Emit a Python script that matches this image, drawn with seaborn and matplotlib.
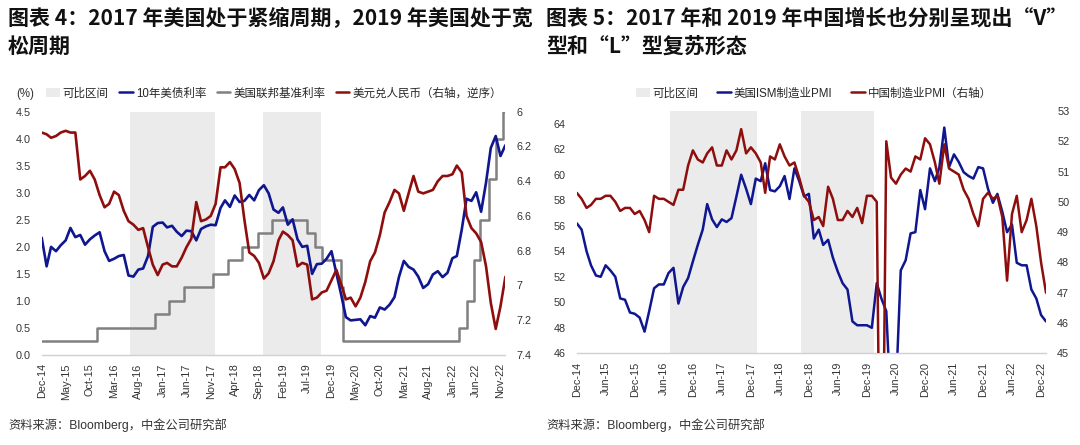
import pandas as pd
import matplotlib
matplotlib.use('Agg')
import matplotlib.pyplot as plt
import matplotlib.dates as mdates
from matplotlib.lines import Line2D
from matplotlib.patches import Patch
from matplotlib.ticker import FormatStrFormatter
import seaborn as sns

# ---------------- chart 4 data (month-end, Dec-2014 .. Dec-2022) ----------------
ust10y = [2.17,
          1.64, 2.00, 1.92, 2.03, 2.12, 2.35, 2.18, 2.22, 2.04, 2.14, 2.21, 2.27,
          1.92, 1.74, 1.78, 1.83, 1.85, 1.47, 1.45, 1.58, 1.60, 1.83, 2.37, 2.44,
          2.45, 2.36, 2.39, 2.28, 2.20, 2.30, 2.29, 2.12, 2.33, 2.38, 2.41, 2.40,
          2.72, 2.86, 2.74, 2.95, 2.83, 2.85, 2.96, 2.86, 3.05, 3.14, 2.99, 2.69,
          2.63, 2.73, 2.41, 2.51, 2.14, 2.00, 2.02, 1.50, 1.68, 1.69, 1.78, 1.92,
          1.51, 1.13, 0.70, 0.64, 0.65, 0.66, 0.55, 0.72, 0.69, 0.88, 0.84, 0.93,
          1.07, 1.44, 1.74, 1.63, 1.58, 1.45, 1.24, 1.31, 1.49, 1.55, 1.44, 1.52,
          1.79, 1.83, 2.32, 2.89, 2.85, 3.01, 2.65, 3.19, 3.83, 4.05, 3.68, 3.88]

usdcny = [6.12,
          6.13, 6.15, 6.14, 6.12, 6.11, 6.12, 6.12, 6.39, 6.37, 6.34, 6.39, 6.48,
          6.55, 6.53, 6.46, 6.48, 6.57, 6.63, 6.65, 6.68, 6.67, 6.78, 6.88, 6.94,
          6.88, 6.87, 6.89, 6.89, 6.84, 6.78, 6.73, 6.52, 6.63, 6.62, 6.60, 6.53,
          6.32, 6.32, 6.29, 6.33, 6.41, 6.62, 6.81, 6.83, 6.87, 6.96, 6.93, 6.86,
          6.74, 6.69, 6.71, 6.74, 6.89, 6.87, 6.88, 7.08, 7.07, 7.04, 7.03, 6.97,
          6.91, 6.99, 7.08, 7.07, 7.12, 7.07, 6.98, 6.86, 6.81, 6.71, 6.58, 6.52,
          6.45, 6.47, 6.57, 6.47, 6.37, 6.46, 6.47, 6.46, 6.45, 6.40, 6.37, 6.37,
          6.36, 6.31, 6.35, 6.60, 6.67, 6.70, 6.75, 6.89, 7.10, 7.25, 7.12, 6.95]

fed_dates = ['2014-12-31', '2015-12-16', '2016-12-14', '2017-03-15', '2017-06-14',
             '2017-12-13', '2018-03-21', '2018-06-13', '2018-09-26', '2018-12-19',
             '2019-07-31', '2019-09-18', '2019-10-30', '2020-03-03', '2020-03-15',
             '2022-03-16', '2022-05-04', '2022-06-15', '2022-07-27', '2022-09-21',
             '2022-11-02', '2022-12-14', '2022-12-31']
fed_rate = [0.25, 0.50, 0.75, 1.00, 1.25, 1.50, 1.75, 2.00, 2.25, 2.50,
            2.25, 2.00, 1.75, 1.25, 0.25, 0.50, 1.00, 1.75, 2.50, 3.25,
            4.00, 4.50, 4.50]

shade4 = [('2016-07-09', '2017-12-27'), ('2018-10-23', '2019-10-23')]

# ---------------- chart 5 data (monthly PMI, Nov-2014 .. Dec-2022) ----------------
ism_pmi = [56.2, 55.7, 54.0, 52.9, 52.1, 52.0, 52.9, 52.5, 52.0, 50.3, 50.2, 49.2,
           49.1, 48.8, 47.7, 49.3, 51.1, 51.4, 51.4, 52.3, 52.7, 49.9, 51.2, 51.9,
           53.2, 54.5, 55.7, 57.7, 56.5, 55.9, 56.5, 56.3, 56.6, 58.3, 60.0, 58.9,
           57.7, 59.7, 59.5, 60.9, 58.8, 58.7, 59.1, 59.9, 58.1, 60.5, 59.5, 58.3,
           58.5,
           55.0, 55.7, 54.5, 54.9, 53.5, 52.4, 51.5, 51.0, 48.5, 48.2, 48.2, 48.2,
           48.0, 51.5, 50.3, 49.3, 41.5, 43.1, 52.5, 53.3, 55.4, 55.5, 58.8, 57.3,
           60.5, 59.5, 60.6, 63.7, 60.6, 61.6, 61.0, 60.2, 59.9, 59.7, 60.6, 60.5,
           58.9, 57.8, 58.5, 57.1, 55.5, 56.1, 53.1, 52.9, 52.9, 51.0, 50.3, 49.0,
           48.5]

china_pmi = [50.3, 50.1,
             49.8, 49.9, 50.1, 50.1, 50.2, 50.2, 50.0, 49.7, 49.8, 49.8, 49.6, 49.7,
             49.4, 49.0, 50.2, 50.1, 50.1, 50.0, 49.9, 50.4, 50.4, 51.2, 51.7, 51.4,
             51.3, 51.6, 51.8, 51.2, 51.2, 51.7, 51.4, 51.7, 52.4, 51.6, 51.8, 51.6,
             51.3, 50.3, 51.5, 51.4, 51.9, 51.5, 51.2, 51.3, 50.8, 50.2, 50.0, 49.4,
             49.5, 49.2, 50.5, 50.1, 49.4, 49.4, 49.7, 49.5, 49.8, 49.3, 50.2, 50.2,
             50.0, 35.7, 52.0, 50.8, 50.6, 50.9, 51.1, 51.0, 51.5, 51.4, 52.1, 51.9,
             51.3, 50.6, 51.9, 51.1, 51.0, 50.9, 50.4, 50.1, 49.6, 49.2, 50.1, 50.3,
             50.1, 50.2, 49.5, 47.4, 49.6, 50.2, 49.0, 49.4, 50.1, 49.2, 48.0, 47.0]

shade5 = [('2016-07-07', '2018-01-10'), ('2018-10-13', '2020-01-13')]

# colours
BLUE = '#0E1690'
RED = '#8E0E0E'
GRAY = '#808080'
SHADE = '#EBEBEB'
TXT = '#333333'

sns.set_style('white')
plt.rcParams['font.family'] = ['Liberation Sans', 'Noto Sans CJK SC']
plt.rcParams['axes.unicode_minus'] = False

fig = plt.figure(figsize=(10.8, 4.45), dpi=100)

dates4 = pd.date_range('2014-12-31', periods=len(ust10y), freq='ME')
dates5 = pd.date_range('2014-12-01', periods=len(ism_pmi), freq='MS')


def style_axes(ax, twin):
    for a in (ax, twin):
        for s in ('top', 'left', 'right', 'bottom'):
            a.spines[s].set_visible(False)
        a.tick_params(axis='y', length=0, labelsize=7.8, labelcolor=TXT, pad=8)
        a.grid(False)
    ax.spines['bottom'].set_visible(True)
    ax.spines['bottom'].set_color('#D0D0D0')
    ax.spines['bottom'].set_linewidth(1.0)
    ax.tick_params(axis='x', length=4, width=0.8, color='#D0D0D0', labelsize=7.8,
                   labelcolor=TXT, labelrotation=90, pad=2)
    ax.set_xlabel('')
    ax.set_ylabel('')
    twin.set_ylabel('')


# ---------------- chart 4 ----------------
ax = fig.add_axes([41.7 / 1080, 90 / 445, (505.4 - 41.7) / 1080, 243.3 / 445])
ax2 = ax.twinx()
for s0, s1 in shade4:
    ax.axvspan(pd.Timestamp(s0), pd.Timestamp(s1), color=SHADE, lw=0, zorder=0)
sns.lineplot(x=pd.to_datetime(fed_dates), y=fed_rate, ax=ax, color=GRAY, lw=1.8,
             drawstyle='steps-post', legend=False)
sns.lineplot(x=dates4, y=ust10y, ax=ax, color=BLUE, lw=1.9, legend=False)
sns.lineplot(x=dates4, y=usdcny, ax=ax2, color=RED, lw=1.9, legend=False)
ax.set_ylim(0, 4.5)
ax.set_yticks([0, 0.5, 1, 1.5, 2, 2.5, 3, 3.5, 4, 4.5])
ax.yaxis.set_major_formatter(FormatStrFormatter('%.1f'))
ax2.set_ylim(7.4, 6.0)
ax2.set_yticks([6, 6.2, 6.4, 6.6, 6.8, 7, 7.2, 7.4])
ax2.set_yticklabels(['6', '6.2', '6.4', '6.6', '6.8', '7', '7.2', '7.4'])
ax.set_xlim(pd.Timestamp('2014-12-31'), pd.Timestamp('2022-12-31'))
ax.set_xticks(pd.date_range('2014-12-31', '2022-12-31', freq='5ME'))
ax.xaxis.set_major_formatter(mdates.DateFormatter('%b-%y'))
style_axes(ax, ax2)

# ---------------- chart 5 ----------------
bx = fig.add_axes([576.7 / 1080, 91.7 / 445, (1046 - 576.7) / 1080, 242.3 / 445])
bx2 = bx.twinx()
for s0, s1 in shade5:
    bx.axvspan(pd.Timestamp(s0), pd.Timestamp(s1), color=SHADE, lw=0, zorder=0)
sns.lineplot(x=dates5, y=ism_pmi, ax=bx, color=BLUE, lw=1.8, legend=False)
sns.lineplot(x=dates5, y=china_pmi, ax=bx2, color=RED, lw=1.8, legend=False)
bx.set_ylim(46, 65)
bx.set_yticks(list(range(46, 65, 2)))
bx2.set_ylim(45, 53)
bx2.set_yticks(list(range(45, 54)))
bx.set_xlim(pd.Timestamp('2014-12-01'), pd.Timestamp('2023-01-01'))
bx.set_xticks(pd.date_range('2014-12-01', '2022-12-01', freq='6MS'))
bx.xaxis.set_major_formatter(mdates.DateFormatter('%b-%y'))
style_axes(bx, bx2)

# ---------------- legends ----------------
leg_kw = dict(frameon=False, fontsize=8.3, handlelength=1.2, handleheight=0.8,
              handletextpad=0.25, borderpad=0, borderaxespad=0, loc='center left')
h4 = [Patch(facecolor=SHADE, edgecolor='none'),
      Line2D([], [], color=BLUE, lw=1.8),
      Line2D([], [], color=GRAY, lw=1.8),
      Line2D([], [], color=RED, lw=1.8)]
l4 = ['可比区间', '10年美债利率', '美国联邦基准利率', '美元兑人民币（右轴，逆序）']
fig.legend(h4, l4, ncol=4, columnspacing=0.9, bbox_to_anchor=(46 / 1080, 1 - 93.5 / 445),
           **leg_kw)
fig.text(16 / 1080, 1 - 93.5 / 445, '(%)', fontsize=8.3, color=TXT, va='center')

h5 = [Patch(facecolor=SHADE, edgecolor='none'),
      Line2D([], [], color=BLUE, lw=1.8),
      Line2D([], [], color=RED, lw=1.8)]
l5 = ['可比区间', '美国ISM制造业PMI', '中国制造业PMI（右轴）']
fig.legend(h5, l5, ncol=3, columnspacing=1.6, bbox_to_anchor=(636 / 1080, 1 - 93.5 / 445),
           **leg_kw)

# ---------------- titles and sources ----------------
title_kw = dict(fontsize=15.1, fontweight='bold', color='#111111', va='top',
                linespacing=1.38, family=['Noto Sans CJK SC', 'DejaVu Sans'])
fig.text(8 / 1080, 1 - 8 / 445,
         '图表 4：2017 年美国处于紧缩周期，2019 年美国处于宽\n松周期', **title_kw)
fig.text(546 / 1080, 1 - 8 / 445,
         '图表 5：2017 年和 2019 年中国增长也分别呈现出“V”\n型和“L”型复苏形态', **title_kw)
fig.text(8 / 1080, 1 - 425 / 445, '资料来源：Bloomberg，中金公司研究部',
         fontsize=8.8, color=TXT, va='center')
fig.text(546 / 1080, 1 - 425 / 445, '资料来源：Bloomberg，中金公司研究部',
         fontsize=8.8, color=TXT, va='center')

fig.savefig('out.png', dpi=100)
